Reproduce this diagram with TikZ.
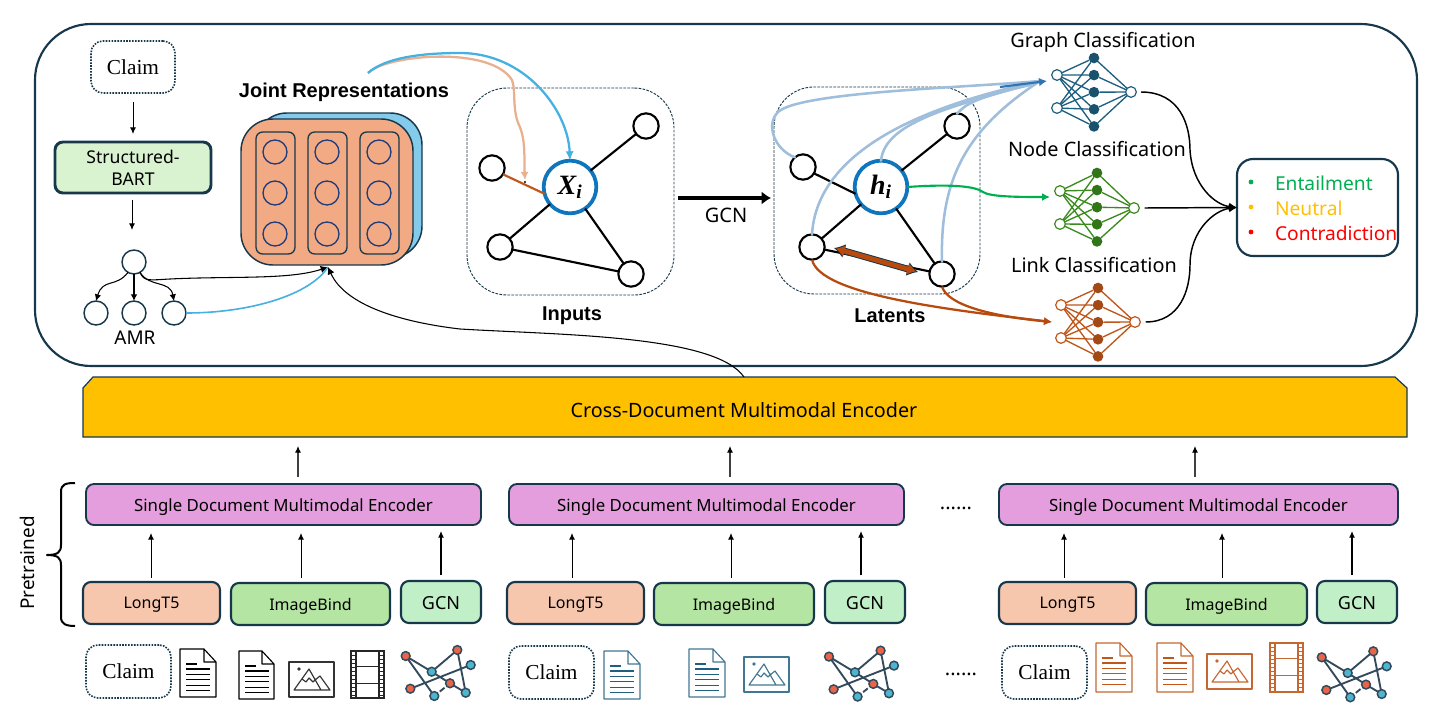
\documentclass[tikz,border=0pt]{standalone}
\usepackage{fontspec}
\setmainfont{Noto Sans}
\newfontfamily\tms{Liberation Serif}
\newfontfamily\hvb{Liberation Sans}
\usetikzlibrary{arrows.meta}
\definecolor{ink}{HTML}{17384A}
\definecolor{teald}{HTML}{1F3C7A}
\definecolor{tealm}{HTML}{1F5F80}
\definecolor{grn}{HTML}{3B8A1E}
\definecolor{brn}{HTML}{C0561A}
\definecolor{brnd}{HTML}{B84A0E}
\definecolor{lblue}{HTML}{9FBEDC}
\definecolor{mblue}{HTML}{2E75B6}
\definecolor{sky}{HTML}{45B0E1}
\definecolor{skyf}{HTML}{83CAEB}
\definecolor{orgf}{HTML}{F2AA84}
\definecolor{orgl}{HTML}{E8B08E}
\definecolor{nodeb}{HTML}{0F75BC}
\definecolor{longf}{HTML}{F6C6AD}
\definecolor{imgf}{HTML}{B4E5A2}
\definecolor{gcnf}{HTML}{C1F0C8}
\definecolor{sbf}{HTML}{D9F2D0}
\definecolor{pinkf}{HTML}{E59EDD}
\definecolor{goldf}{HTML}{FFC000}
\definecolor{gedge}{HTML}{33495C}
\definecolor{gred}{HTML}{E8654A}
\definecolor{gteal}{HTML}{4DB6CF}
\definecolor{entc}{HTML}{00B050}
\definecolor{neuc}{HTML}{FFC000}
\definecolor{conc}{HTML}{FF0000}
\newcommand{\dn}[2]{\raisebox{-#1}[\height][\depth]{#2}}
\tikzset{
 pxbox/.style={draw=ink,line width=1.6pt,rounded corners=7pt,inner sep=0pt,outer sep=0pt,align=center,font=\fontsize{12}{15}\selectfont},
 claimbox/.style={draw=ink,densely dotted,line width=1.2pt,rounded corners=9pt,inner sep=0pt,outer sep=0pt,font=\tms\fontsize{16}{18}\selectfont},
 rnode/.style={circle,draw=black,line width=1.6pt,fill=white,minimum size=19pt,inner sep=0pt,outer sep=0pt},
 bnode/.style={circle,draw=nodeb,line width=2.8pt,fill=white,minimum size=39.5pt,inner sep=0pt,outer sep=0pt,font=\tms\bfseries\itshape\fontsize{21}{21}\selectfont},
 anode/.style={circle,draw=ink,line width=1.1pt,fill=white,minimum size=18pt,inner sep=0pt,outer sep=0pt},
 jnode/.style={circle,draw=teald,line width=1pt,minimum size=18pt,inner sep=0pt,outer sep=0pt},
 edge/.style={line width=1.6pt,black},
 thin arrow/.style={line width=.75pt,-{Latex[length=5pt,width=4.5pt]}},
 lbl/.style={inner sep=0pt,outer sep=0pt,font=\fontsize{14.9}{18}\selectfont},
 blbl/.style={inner sep=0pt,outer sep=0pt,font=\hvb\bfseries\fontsize{15}{18}\selectfont},
 res/.style={inner sep=0pt,outer sep=0pt,anchor=west,font=\fontsize{14.4}{17}\selectfont},
 bul/.style={circle,inner sep=0pt,outer sep=0pt,minimum size=3.6pt},
 lb curve/.style={lblue,line width=1.9pt,line cap=round},
 dashbox/.style={draw=ink,dashed,dash pattern=on 2pt off 1pt,line width=.7pt,rounded corners=30pt,inner sep=0pt,outer sep=0pt},
}
% name, style, x1, y1, x2, y2, text
\newcommand{\rbox}[7]{%
 \pgfmathsetmacro{\cxx}{(#3+#5)/2}\pgfmathsetmacro{\cyy}{(#4+#6)/2}%
 \node[#2,minimum width={(#5-#3)*0.75pt},minimum height={(#6-#4)*0.75pt}] (#1) at (\cxx,\cyy) {#7};}
% prefix, colour, xi, yi1, yi2, xm, ym1, xo, yo
\newcommand{\nnet}[9]{%
 \foreach \k/\yy in {1/#4,2/#5} {\node[circle,draw=#2,line width=.9pt,fill=white,minimum size=8pt,inner sep=0pt,outer sep=0pt] (#1i\k) at (#3,\yy) {};}
 \foreach \k in {0,...,4} {\pgfmathsetmacro{\yy}{#7+\k*17.1}\node[circle,fill=#2!85!black,minimum size=8pt,inner sep=0pt,outer sep=0pt] (#1m\k) at (#6,\yy) {};}
 \node[circle,draw=#2,line width=.9pt,fill=white,minimum size=8pt,inner sep=0pt,outer sep=0pt] (#1o) at (#8,#9) {};
 \foreach \a in {1,2}{\foreach \b in {0,...,4}{\draw[#2,line width=1pt] (#1i\a) -- (#1m\b);}}
 \foreach \b in {0,...,4}{\draw[#2,line width=1pt] (#1m\b) -- (#1o);}
}
% x1,y1,x2,y2,outline,lines
\newcommand{\docicon}[6]{%
 \pgfmathsetmacro{\fx}{#3-12}\pgfmathsetmacro{\fy}{#2+13}%
 \draw[#5,line width=.85pt,line join=round] (#1,#2)--(\fx,#2)--(#3,\fy)--(#3,#4)--(#1,#4)--cycle (\fx,#2)--(\fx,\fy)--(#3,\fy);
 \pgfmathsetmacro{\la}{#1+6}\pgfmathsetmacro{\lb}{#1+30}\pgfmathsetmacro{\lc}{#1+17}%
 \draw[#6,line width=1pt] (\la,#2+15)--(\lc,#2+15);
 \foreach \o in {20,25.4,30.8,36.2,41.2}{\draw[#6,line width=1pt] (\la,#2+\o)--(\lb,#2+\o);}
}
% x1,y1,colour
\newcommand{\imgicon}[3]{%
 \begin{scope}[shift={(#1,#2)},#3,line width=.85pt,line join=round]
 \draw (0,0) rectangle (45,35);
 \fill (10,7) circle (1.8);
 \draw (5,28)--(20,7)--(32,28)--cycle (26,18)--(31,14)--(41,28)--(32,28);
 \draw (13,17)--(17,20)--(20,16)--(24,20)--(27,17);
 \end{scope}}
% x1,y1,x2,y2,colour
\newcommand{\filmicon}[5]{%
 \pgfmathsetmacro{\wa}{#1+5}\pgfmathsetmacro{\wb}{#3-5}\pgfmathsetmacro{\ha}{#2+15.5}\pgfmathsetmacro{\hb}{#2+32.5}%
 \draw[#5,line width=.8pt] (#1,#2) rectangle (#3,#4) (\wa,#2)--(\wa,#4) (\wb,#2)--(\wb,#4) (\wa,\ha)--(\wb,\ha) (\wa,\hb)--(\wb,\hb);
 \foreach \o in {4,8,...,45}{\draw[#5,line width=.55pt] (#1,#2+\o)--(\wa,#2+\o) (\wb,#2+\o)--(#3,#2+\o);}
}
% prefix, ox, oy
\newcommand{\gicon}[3]{%
 \begin{scope}[shift={(#2,#3)}]
 \foreach \n/\xx/\yy/\c in {a/5.7/6/gred,b/57.3/0/gred,c/70.7/15/gteal,d/31.7/21.7/gteal,e/50/33.3/gred,f/10.3/38.7/gred,g/34.3/46/gteal,h/65.7/42.7/gteal}{
  \node[circle,draw=gedge,line width=1.1pt,fill=\c,minimum size=6.6pt,inner sep=0pt,outer sep=0pt] (#1\n) at (\xx,\yy) {};}
 \draw[gedge,line width=1.4pt,shorten <=2pt,shorten >=2pt]
  (#1a)--(#1d) (#1a)--(#1g) (#1b)--(#1d) (#1b)--(#1h) (#1c)--(#1f) (#1d)--(#1e) (#1e)--(#1h) (#1e)--(#1g);
 \end{scope}}
\begin{document}
\begin{tikzpicture}[x=0.75pt,y=-0.75pt]
\useasboundingbox (0,0) rectangle (1431,717);
\fill[white] (0,0) rectangle (1431,717);
% outer panel
\rbox{panel}{draw=ink,line width=1.6pt,rounded corners=42pt,inner sep=0pt,outer sep=0pt}{35}{24}{1417}{366}{}
% claim + bart + amr
\rbox{claimT}{claimbox}{91}{41}{175}{93}{Claim}
\rbox{bart}{pxbox,fill=sbf,line width=2.2pt,rounded corners=6pt,font=\fontsize{13.2}{16.5}\selectfont}{55}{142}{211}{193}{Structured-\\BART}
\draw[thin arrow] (claimT.south)++(0,9) -- ([yshift=6pt]bart.north -| claimT.south);
\node[anode] (r) at (134,262) {};
\node[anode] (c1) at (96,313) {};
\node[anode] (c2) at (134,313) {};
\node[anode] (c3) at (174,313) {};
\node[lbl,font=\fontsize{14.2}{17}\selectfont] (amr) at (135,338) {AMR};
\draw[thin arrow] ([yshift=-5pt]bart.south -| r.north) ++(-2,0) -- ([yshift=15pt]r.north -| 132,0);
\draw[line width=.8pt,-{Latex[length=5pt,width=5pt]}] (r.240) .. controls (116,288) and (103,278) .. (c1.north);
\draw[line width=.9pt,-{Latex[length=5pt,width=5pt]}] (r.south) -- (c2.north);
\draw[line width=.8pt,-{Latex[length=5pt,width=5pt]}] (r.300) .. controls (150,288) and (170,280) .. (c3.north);
% joint
\node[blbl] (jlab) at (344,92) {Joint Representations};
\rbox{jb}{draw=ink,fill=skyf,line width=1.1pt,rounded corners=24pt,inner sep=0pt,outer sep=0pt}{255}{113}{422}{258}{}
\rbox{jf}{draw=ink,fill=orgf,line width=1.1pt,rounded corners=24pt,inner sep=0pt,outer sep=0pt}{241}{119}{413}{265}{}
\foreach \n/\xa/\xb/\xc in {1/256/295/275,2/308/347/327,3/360/399/379}{
 \rbox{col\n}{draw=ink,line width=1pt,rounded corners=5pt,inner sep=0pt,outer sep=0pt}{\xa}{132}{\xb}{254}{}
 \foreach \m/\yy in {1/152,2/193,3/234}{\node[jnode] (j\n\m) at (\xc,\yy) {};}
}
\coordinate (jt) at (328,267);
\draw[line width=.8pt,-{Latex[length=5.5pt,width=5.5pt]}] (r.300) .. controls (144,282) and (150,280) .. (170,279) .. controls (230,276) and (290,280) .. (jt);
\draw[sky,line width=1.2pt] (c3.east) .. controls (250,313) and (310,295) .. (jt);
% inputs
\rbox{inbox}{dashbox}{467}{88}{674}{295}{}
\node[blbl] (inl) at (572,316) {Inputs};
\node[rnode] (a1) at (646,126) {};
\node[rnode] (a2) at (492,168) {};
\node[rnode] (a3) at (500,247) {};
\node[rnode] (a4) at (631,274) {};
\node[bnode] (x) at (570,187) {X\textsubscript{i}};
\draw[edge] (x)--(a1) (x)--(a3) (x)--(a4) (a3)--(a4);
\draw[brn,line width=1.6pt] (a2.-30)--(x.195);
% top feed curves
\coordinate (s) at (368,73);
\draw[orgl,line width=1.7pt,-{Latex[length=6pt,width=6pt]}] (s) .. controls (385,55) and (490,45) .. (512,80) .. controls (516,90) and (512,110) .. (519,125) .. controls (526,140) and (524,160) .. (525,180);
\draw[sky,line width=1.7pt,-{Latex[length=7pt,width=6pt]}] (s) .. controls (385,58) and (420,53) .. (460,53) .. controls (525,53) and (568,110) .. (x.north);
\fill[black] (525,182) circle (1.2);
% gcn arrow
\coordinate (gs) at (678,198);
\coordinate (ge) at (771,198);
\draw[black,line width=3.6pt,-{Latex[length=7pt,width=10pt]}] (gs) -- (ge);
\node[lbl,font=\fontsize{15}{18}\selectfont] (gl) at (726,215) {GCN};
% latents
\rbox{latbox}{dashbox}{774}{87}{980}{294}{}
\node[blbl] (latl) at (890,316) {Latents};
\node[rnode] (b1) at (957,126) {};
\node[rnode] (b2) at (803,167) {};
\node[rnode] (b3) at (812,247) {};
\node[rnode] (b4) at (942,274) {};
\node[bnode] (h) at (881,187) {h\textsubscript{i}};
\draw[edge] (h)--(b1) (b2.-30)--(h.195) (h)--(b3) (h)--(b4) (b3)--(b4);
\draw[ink,line width=5pt,{Latex[length=8pt,width=11pt]}-{Latex[length=8pt,width=11pt]}] (834,248) -- (918,272);
\draw[brnd,line width=3.6pt,{Latex[length=6.6pt,width=9pt]}-{Latex[length=6.6pt,width=9pt]}] (836,248.6) -- (916,271.4);
% classifiers
\nnet{g}{tealm}{1057}{75}{108}{1094}{58}{1131}{92}
\nnet{n}{grn}{1060}{191}{224}{1097}{173}{1134}{208}
\nnet{l}{brn}{1061}{305}{338}{1098}{288}{1135}{322}
\node[lbl] (gc) at (1103,42) {Graph Classification};
\node[lbl] (nc) at (1097,149) {Node Classification};
\node[lbl] (lc) at (1094,265) {Link Classification};
\coordinate (gt) at (1047,81);
\coordinate (nt) at (1050,197);
\coordinate (lt) at (1052,322);
\draw[lb curve] (b2.130) .. controls (775,150) and (765,125) .. (778,112) .. controls (800,92) and (960,88) .. (1040,81);
\draw[lb curve] (b3.north) .. controls (816,170) and (880,115) .. (1040,81);
\draw[lb curve] (h.north) .. controls (885,120) and (960,105) .. (1040,81);
\draw[lb curve] (b1.north) .. controls (963,110) and (960,100) .. (1035,84);
\draw[lb curve] (b4.north) .. controls (940,180) and (965,130) .. (1040,81);
\draw[mblue,line width=1.6pt,-{Latex[length=6pt,width=6.5pt]}] (1000,87) -- (gt);
\draw[entc,line width=1.6pt,-{Latex[length=6pt,width=6pt]}] (h.east) .. controls (950,184) and (975,186) .. (983,192) .. controls (990,197) and (1020,197) .. (nt);
\draw[brnd,line width=1.7pt,-{Latex[length=6pt,width=6pt]}] (b3.south) .. controls (820,295) and (950,310) .. (lt);
\draw[brnd,line width=1.7pt,-{Latex[length=6pt,width=6pt]}] (b4.south) .. controls (948,305) and (990,316) .. (lt);
% result
\rbox{result}{draw=ink,line width=1.6pt,rounded corners=12pt,inner sep=0pt,outer sep=0pt}{1237}{159}{1398}{256}{}
\node[bul,fill=entc] (b1e) at (1251,182) {};
\node[bul,fill=neuc] (b2e) at (1251,207) {};
\node[bul,fill=conc] (b3e) at (1251,232) {};
\node[res,text=entc] (t1) at (1275,183) {Entailment};
\node[res,text=neuc] (t2) at (1275,208) {Neutral};
\node[res,text=conc] (t3) at (1275,233) {Contradiction};
\draw[line width=1.1pt,-{Latex[length=6pt,width=6pt]}] ([xshift=3.5pt]go.east) .. controls (1180,92) and (1190,125) .. (1190,150) .. controls (1192,185) and (1215,205) .. (result.west);
\draw[line width=1.1pt,-{Latex[length=6pt,width=6pt]}] ([xshift=4pt]no.east) -- (result.west);
\draw[line width=1.1pt,-{Latex[length=6pt,width=6pt]}] ([xshift=4pt]lo.east) .. controls (1180,322) and (1190,290) .. (1190,265) .. controls (1190,230) and (1215,210) .. (result.west);
% encoder
\draw[ink,fill=goldf,line width=.9pt] (83,388)--(93,377)--(1395,377)--(1407,388)--(1407,437)--(83,437)--cycle;
\node[lbl,font=\fontsize{14.8}{18}\selectfont] (enct) at (744,410) {Cross-Document Multimodal Encoder};
\draw[line width=.8pt,-{Latex[length=5.5pt,width=5.5pt]}] (744,377) .. controls (715,335) and (560,335) .. (460,329) .. controls (400,322) and (345,305) .. (jt);
% lower tiers
\foreach \n/\xa/\xb/\la/\lb/\ma/\mb/\ga/\gb/\ax/\ay/\az/\ar in {
 1/86/481/83/220/231/390/401/481/151/301/441/298,
 2/509/904/507/644/654/814/825/905/572/731/861/730,
 3/999/1398/999/1136/1146/1307/1317/1397/1064/1222/1352/1195}{
 \rbox{sd\n}{pxbox,fill=pinkf,line width=1.4pt,rounded corners=6pt,font=\fontsize{12.6}{15}\selectfont}{\xa}{484}{\xb}{525}{\dn{2pt}{Single Document Multimodal Encoder}}
 \rbox{lt\n}{pxbox,fill=longf,rounded corners=6pt}{\la}{582}{\lb}{624}{\dn{1.5pt}{LongT5}}
 \rbox{ib\n}{pxbox,fill=imgf,rounded corners=6pt}{\ma}{583}{\mb}{625}{\dn{1.5pt}{ImageBind}}
 \rbox{gc\n}{pxbox,fill=gcnf,rounded corners=6pt,font=\fontsize{13.5}{15}\selectfont}{\ga}{581}{\gb}{623}{\dn{.7pt}{GCN}}
 \draw[thin arrow] (\ax,578) -- (\ax,533);
 \draw[thin arrow] (\ay,578) -- (\ay,533);
 \draw[thin arrow,line width=.9pt] (\az,575) -- (\az,531);
 \draw[gray!50!black,line width=1pt] (\ar,477) -- (\ar,452);
 \draw[thin arrow] (\ar,453) -- (\ar,446);
}
% brace + label
\draw[black,line width=1.5pt,line join=round] (75,483) .. controls (66,483) and (61,484) .. (61,492) -- (61,545) .. controls (61,552) and (58,555) .. (47,555) .. controls (58,555) and (61,558) .. (61,565) -- (61,617) .. controls (61,624) and (66,626) .. (75,626);
\node[rotate=90,lbl,font=\fontsize{14.2}{17}\selectfont] (pre) at (27,563) {Pretrained};
% dots
\node[lbl,font=\fontsize{15}{17}\selectfont] (dot1) at (956,508) {......};
\node[lbl,font=\fontsize{15}{17}\selectfont] (dot2) at (961,674) {......};
% bottom row 1
\rbox{cl1}{claimbox}{86}{645}{171}{698}{Claim}
\docicon{180}{649}{216}{697}{black}{black}
\docicon{239}{651}{274}{699}{black}{black}
\imgicon{289}{662}{black!80}
\filmicon{351}{651}{384}{698}{black!85}
\gicon{p}{400}{650}
% bottom row 2
\rbox{cl2}{claimbox}{509}{646}{594}{699}{Claim}
\docicon{604}{651}{640}{699}{tealm!85!white}{tealm}
\docicon{689}{649}{725}{697}{tealm!85!white}{tealm}
\imgicon{744}{657}{tealm!85!white}
\gicon{q}{823.3}{650.6}
% bottom row 3
\rbox{cl3}{claimbox}{1002}{646}{1087}{699}{Claim}
\docicon{1096}{643}{1132}{692}{brn!90!white}{brn}
\docicon{1157}{643}{1193}{692}{brn!90!white}{brn}
\imgicon{1207}{654}{brn!90!white}
\filmicon{1270}{643}{1303}{692}{brn!90!white}
\gicon{u}{1316}{651.3}
\end{tikzpicture}
\end{document}
